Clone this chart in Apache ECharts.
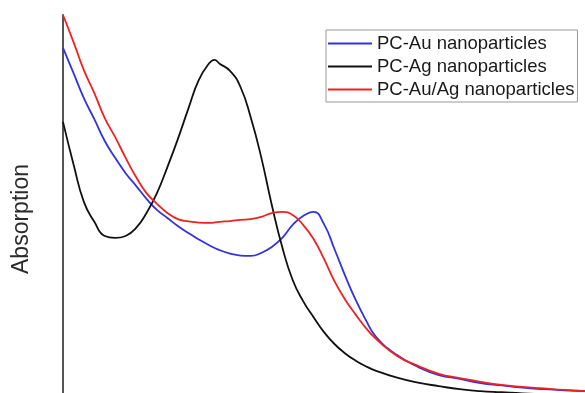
<!DOCTYPE html>
<html>
<head>
<meta charset="utf-8">
<title>Absorption spectra</title>
<script src="https://cdn.jsdelivr.net/npm/echarts@6/dist/echarts.min.js"></script>
<style>
    html, body { margin: 0; padding: 0; background: #fff; }
    #chart { width: 585px; height: 393px; }
</style>
</head>
<body>
<div id="chart"></div>
<script>
// wavelength (nm) for the Au and Au/Ag spectra
const wavelengths = [300, 310, 320, 330, 340, 350, 360, 370, 380, 390, 400, 410, 420, 430, 440, 450, 460, 470, 480, 490,
    500, 510, 520, 530, 540, 550, 560, 570, 580, 590, 600, 620, 640, 660, 680, 700, 720, 740, 760, 780, 800];
// the Ag spectrum has one more point at its sharp peak
const agWavelengths = [300, 310, 320, 330, 340, 350, 360, 370, 380, 390, 400, 410, 420, 430, 440, 445, 450, 460, 470, 480, 490,
    500, 510, 520, 530, 540, 550, 560, 570, 580, 590, 600, 620, 640, 660, 680, 700, 720, 740, 760, 780, 800];

// absorption (a.u.)
const auValues = [0.914, 0.849, 0.783, 0.728, 0.671, 0.627, 0.587, 0.554, 0.520, 0.491, 0.470, 0.449, 0.431, 0.414, 0.399, 0.386, 0.377, 0.372, 0.371, 0.379,
    0.394, 0.418, 0.452, 0.475, 0.486, 0.454, 0.389, 0.321, 0.258, 0.204, 0.159, 0.112, 0.081, 0.060, 0.050, 0.039, 0.033, 0.027, 0.023, 0.020, 0.018];
const agValues = [0.721, 0.611, 0.512, 0.460, 0.423, 0.418, 0.423, 0.444, 0.483, 0.535, 0.603, 0.676, 0.755, 0.830, 0.874, 0.883, 0.873, 0.854, 0.812, 0.731, 0.627,
    0.504, 0.394, 0.308, 0.253, 0.211, 0.172, 0.141, 0.117, 0.098, 0.083, 0.071, 0.053, 0.040, 0.031, 0.023, 0.018, 0.015, 0.012, 0.010, 0.009, 0.008];
const auAgValues = [1.000, 0.930, 0.856, 0.796, 0.731, 0.681, 0.627, 0.577, 0.535, 0.507, 0.483, 0.467, 0.461, 0.458, 0.457, 0.460, 0.462, 0.465, 0.467, 0.473,
    0.483, 0.486, 0.478, 0.452, 0.415, 0.363, 0.305, 0.258, 0.219, 0.183, 0.154, 0.110, 0.084, 0.063, 0.052, 0.042, 0.034, 0.029, 0.025, 0.021, 0.018];

const seriesNames = ['PC-Au nanoparticles', 'PC-Ag nanoparticles', 'PC-Au/Ag nanoparticles'];
const seriesColors = ['#3333dd', '#111111', '#ee2222'];

let spectraChart;

function toPairs(xs, values) {
    return xs.map((w, i) => [w, values[i]]);
}

function buildSeries() {
    const allData = [
        toPairs(wavelengths, auValues),
        toPairs(agWavelengths, agValues),
        toPairs(wavelengths, auAgValues)
    ];
    return seriesNames.map((name, i) => ({
        name: name,
        type: 'line',
        data: allData[i],
        smooth: 0.5,
        showSymbol: false,
        symbol: 'none',
        lineStyle: { color: seriesColors[i], width: 1.8 },
        itemStyle: { color: seriesColors[i] }
    }));
}

function initChart() {
    spectraChart = echarts.init(document.getElementById('chart'));
    const option = {
        animation: false,
        grid: { left: 63, right: 0, top: 15, height: 383, outerBoundsMode: 'none' },
        xAxis: {
            type: 'value',
            min: 300,
            max: 800,
            show: false
        },
        yAxis: {
            type: 'value',
            min: 0,
            max: 1,
            axisLine: { show: true, lineStyle: { color: '#555', width: 2 } },
            axisTick: { show: false },
            axisLabel: { show: false },
            splitLine: { show: false }
        },
        legend: {
            orient: 'vertical',
            left: 326,
            top: 30,
            padding: [4, 3, 3, 2],
            itemGap: 4,
            itemWidth: 44,
            itemHeight: 2,
            icon: 'rect',
            borderColor: '#999',
            borderWidth: 1,
            textStyle: { fontFamily: 'Liberation Sans', fontSize: 18.5, lineHeight: 18.5, color: '#1a1a1a' },
            data: seriesNames
        },
        graphic: [{
            type: 'text',
            x: 22,
            y: 219,
            rotation: Math.PI / 2,
            style: {
                text: 'Absorption',
                fill: '#2a2a2a',
                font: '23px "Liberation Sans"',
                align: 'center',
                verticalAlign: 'middle'
            }
        }],
        series: buildSeries()
    };
    spectraChart.setOption(option);
}

document.addEventListener('DOMContentLoaded', function () {
    initChart();
});
</script>
</body>
</html>
